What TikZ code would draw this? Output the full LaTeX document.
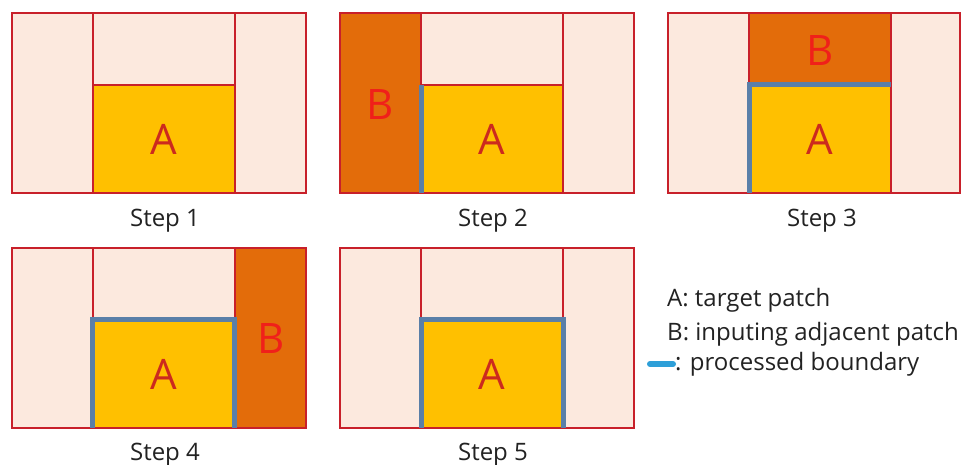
\documentclass[tikz,border=0pt]{standalone}
\usepackage{fontspec}
\setmainfont{Open Sans}
\definecolor{peach}{HTML}{FCE9DE}
\definecolor{redline}{HTML}{C8202A}
\definecolor{ayellow}{HTML}{FFC000}
\definecolor{borange}{HTML}{E36C0A}
\definecolor{bound}{HTML}{5A7FA8}
\definecolor{legblue}{HTML}{2E9FD8}
\definecolor{letterA}{HTML}{CC2A1E}
\definecolor{letterB}{HTML}{F0201A}
\definecolor{txt}{HTML}{222222}
\tikzset{
  redl/.style={draw=redline, line width=2pt},
  boundl/.style={draw=bound, line width=5pt, line cap=butt, line join=miter},
  bigletter/.style={font=\fontsize{42}{42}\selectfont, inner sep=0pt},
  steplabel/.style={font=\fontsize{24}{24}\selectfont, text=txt, anchor=base, inner sep=0pt},
  legtext/.style={font=\fontsize{24}{24}\selectfont, text=txt, anchor=base west, inner sep=0pt},
}
\newcommand\panelbase[1]{%
  \fill[peach] (0,0) rectangle (#1,180);
  \fill[ayellow] (81,72) rectangle (223,180);
}
\newcommand\panellines[1]{%
  \draw[redl] (0,0) rectangle (#1,180);
  \draw[redl] (81,0) -- (81,180);
  \draw[redl] (223,0) -- (223,180);
  \draw[redl] (81,72) -- (223,72);
}
\begin{document}
\begin{tikzpicture}[x=1pt,y=-1pt]
\useasboundingbox (0,0) rectangle (962,464);
\fill[white] (0,0) rectangle (962,464);
% Panel 1
\begin{scope}[shift={(11.7,12.7)}]
  \panelbase{294}
  \node[bigletter, text=letterA] (A1) at (152,127) {A};
  \panellines{294}
\end{scope}
\node[steplabel] (s1) at (165,226) {Step 1};
% Panel 2
\begin{scope}[shift={(340,12.7)}]
  \panelbase{294}
  \fill[borange] (0,0) rectangle (81,180);
  \node[bigletter, text=letterB] (B2) at (40,92) {B};
  \node[bigletter, text=letterA] (A2) at (152,127) {A};
  \panellines{294}
  \draw[boundl] (81,72) -- (81,180);
\end{scope}
\node[steplabel] (s2) at (493,226) {Step 2};
% Panel 3
\begin{scope}[shift={(668,12.7)}]
  \panelbase{292}
  \fill[borange] (81,0) rectangle (223,72);
  \node[bigletter, text=letterB] (B3) at (152,38) {B};
  \node[bigletter, text=letterA] (A3) at (152,127) {A};
  \panellines{292}
  \draw[boundl] (81,180) -- (81,72) -- (223,72);
\end{scope}
\node[steplabel] (s3) at (822,226) {Step 3};
% Panel 4
\begin{scope}[shift={(11.7,247.5)}]
  \panelbase{294}
  \fill[borange] (223,0) rectangle (294,180);
  \node[bigletter, text=letterB] (B4) at (259,91) {B};
  \node[bigletter, text=letterA] (A4) at (152,127) {A};
  \panellines{294}
  \draw[boundl] (81,180) -- (81,72) -- (223,72) -- (223,180);
\end{scope}
\node[steplabel] (s4) at (165,460) {Step 4};
% Panel 5
\begin{scope}[shift={(340,247.5)}]
  \panelbase{294}
  \node[bigletter, text=letterA] (A5) at (152,127) {A};
  \panellines{294}
  \draw[boundl] (81,180) -- (81,72) -- (223,72) -- (223,180);
\end{scope}
\node[steplabel] (s5) at (493,460) {Step 5};
% Legend
\node[legtext] (la) at (667,306.5) {A: target patch};
\node[legtext] (lb) at (667,340) {B: inputing adjacent patch};
\node[legtext] (lc) at (675,370) {: processed boundary};
\coordinate (d1) at (650,364);
\coordinate (d2) at (673,364);
\draw[legblue, line width=6pt, line cap=round] (d1) -- (d2);
\end{tikzpicture}
\end{document}
